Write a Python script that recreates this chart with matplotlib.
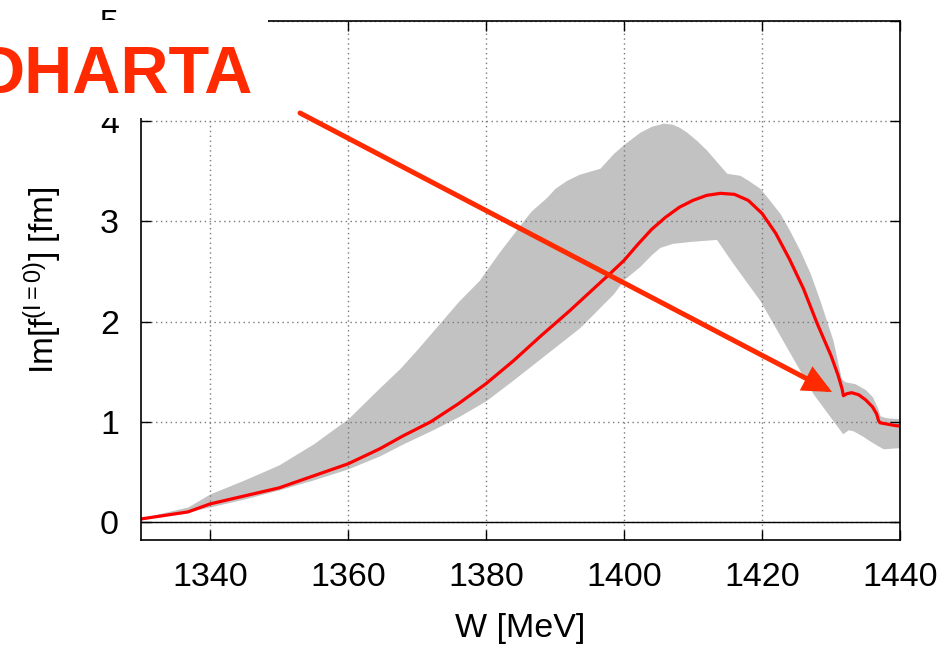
import matplotlib
matplotlib.use("Agg")
import matplotlib.pyplot as plt
from matplotlib.patches import Rectangle, FancyArrowPatch
import numpy as np

plt.rcParams['font.family'] = ['Liberation Sans', 'DejaVu Sans']
plt.rcParams['mathtext.fontset'] = 'custom'
plt.rcParams['mathtext.rm'] = 'Liberation Sans'
plt.rcParams['mathtext.it'] = 'Liberation Sans:italic'
plt.rcParams['mathtext.bf'] = 'Liberation Sans:bold'

# Central curve Im f(I=0) [fm] vs W [MeV]
red_w = [1330, 1336.8, 1340, 1345, 1350, 1355, 1360, 1364.6, 1368, 1372, 1376, 1380,
         1384, 1388, 1392, 1395, 1398, 1400, 1402, 1404, 1406, 1408, 1410, 1412, 1414,
         1416, 1418, 1420, 1422, 1424, 1426, 1428, 1430, 1431, 1431.6, 1431.8,
         1432.3, 1433, 1434, 1435, 1436, 1436.6, 1436.9, 1437.1, 1439.5, 1440]
red_y = [0.03, 0.10, 0.18, 0.26, 0.34, 0.46, 0.58, 0.73, 0.86, 1.00, 1.18, 1.38,
         1.61, 1.86, 2.10, 2.29, 2.48, 2.61, 2.77, 2.92, 3.04, 3.14, 3.21, 3.26, 3.28,
         3.27, 3.21, 3.08, 2.88, 2.62, 2.33, 1.98, 1.66, 1.47, 1.33, 1.26,
         1.28, 1.29, 1.27, 1.22, 1.15, 1.08, 1.01, 0.99, 0.96, 0.96]

# Uncertainty band edges
up_w = [1330, 1336.8, 1340, 1345, 1350, 1355, 1360, 1364.6, 1367.5, 1370, 1373.5,
        1376, 1379, 1382, 1384.9, 1386.5, 1388.8, 1390, 1391.7, 1393.5, 1395, 1396.5,
        1398.5, 1400, 1402.3, 1404, 1405.7, 1407, 1408, 1409.1, 1410.5, 1412, 1413.5,
        1414.9, 1416.8, 1418, 1419.7, 1421, 1422.6, 1424, 1425.5, 1427, 1428.4,
        1430.3, 1431.5, 1432, 1433.5, 1435, 1436, 1436.8, 1437.1, 1438, 1440]
up_y = [0.04, 0.15, 0.28, 0.42, 0.57, 0.78, 1.03, 1.34, 1.53, 1.72, 2.00,
        2.20, 2.41, 2.70, 2.96, 3.10, 3.24, 3.33, 3.41, 3.47, 3.50, 3.53,
        3.68, 3.77, 3.89, 3.95, 3.98, 3.97, 3.94, 3.89, 3.81, 3.71, 3.59,
        3.48, 3.46, 3.41, 3.33, 3.22, 3.08, 2.91, 2.71, 2.48, 2.21,
        1.81, 1.43, 1.40, 1.38, 1.32, 1.25, 1.13, 1.06, 1.04, 1.03]
lo_w = [1330, 1336.8, 1340, 1345, 1350, 1355, 1360, 1364.6, 1368, 1372, 1376, 1380,
        1384, 1388.8, 1393.6, 1398.5, 1400, 1402.3, 1404, 1405.2, 1407, 1409.6, 1411.5,
        1413.4, 1415.8, 1419.7, 1423.6, 1427.4, 1430.3, 1431.7, 1432.5, 1433.2, 1434.5,
        1435.6, 1436.8, 1437.6, 1439.5, 1440]
lo_y = [0.03, 0.10, 0.15, 0.23, 0.32, 0.42, 0.53, 0.66, 0.78, 0.91, 1.05, 1.21,
        1.42, 1.68, 1.94, 2.28, 2.42, 2.55, 2.67, 2.74, 2.78, 2.80, 2.81,
        2.82, 2.58, 2.21, 1.74, 1.28, 1.01, 0.88, 0.92, 0.91, 0.86,
        0.81, 0.76, 0.73, 0.74, 0.74]

x_ticks = [1340, 1360, 1380, 1400, 1420, 1440]
y_ticks = [0, 1, 2, 3, 4, 5]

fig = plt.figure(figsize=(9.43, 6.48), dpi=100)
ax = fig.add_axes([141/943, 108/648, 759/943, 519/648])

grid_w = np.union1d(up_w, lo_w)
band_up = np.interp(grid_w, up_w, up_y)
band_lo = np.interp(grid_w, lo_w, lo_y)
ax.fill_between(grid_w, band_lo, band_up, color='#c2c2c2', lw=0, zorder=1)
ax.plot(red_w, red_y, color='#ff0000', lw=2.3, zorder=3, solid_joinstyle='round')
ax.axhline(0, color='black', lw=1.0, zorder=2.6)

ax.set_xlim(1330, 1440)
ax.set_ylim(-0.18, 5)
ax.set_xticks(x_ticks)
ax.set_yticks(y_ticks)
ax.set_axisbelow(False)
ax.grid(True, color='#7a7a7a', lw=1.0, linestyle=(0, (1, 2.5)), zorder=2.5)
ax.tick_params(direction='in', length=7, width=1.0, labelsize=24.5,
               top=True, right=True)
ax.tick_params(axis='x', pad=15.5)
ax.tick_params(axis='y', pad=16)
for s in ax.spines.values():
    s.set_linewidth(1.2)
    s.set_zorder(4)

ax.set_xlabel('W [MeV]', fontsize=24.5, labelpad=15)
ax.set_ylabel(r'Im[f$^{\mathrm{(I{=}0)}}$] [fm]', fontsize=24, labelpad=26)

# white patch of the overlaid label
fig.add_artist(Rectangle((0, (648-118)/648), 268/943, 98/648, transform=fig.transFigure,
                         facecolor='white', edgecolor='none', zorder=5))
fig.text(253/943, (648-93)/648, 'DHARTA', ha='right', va='baseline', fontsize=48,
         fontweight='bold', color='#ff2a00', zorder=6)

arrow = FancyArrowPatch((3.00, (648-113)/100), (8.32, (648-392)/100),
                        transform=fig.dpi_scale_trans,
                        arrowstyle='-|>,head_length=1.5,head_width=0.7',
                        mutation_scale=10, lw=3.6, color='#ff2a00',
                        shrinkA=0, shrinkB=0, zorder=7, joinstyle='miter')
fig.add_artist(arrow)

fig.savefig('out.png', dpi=100)
